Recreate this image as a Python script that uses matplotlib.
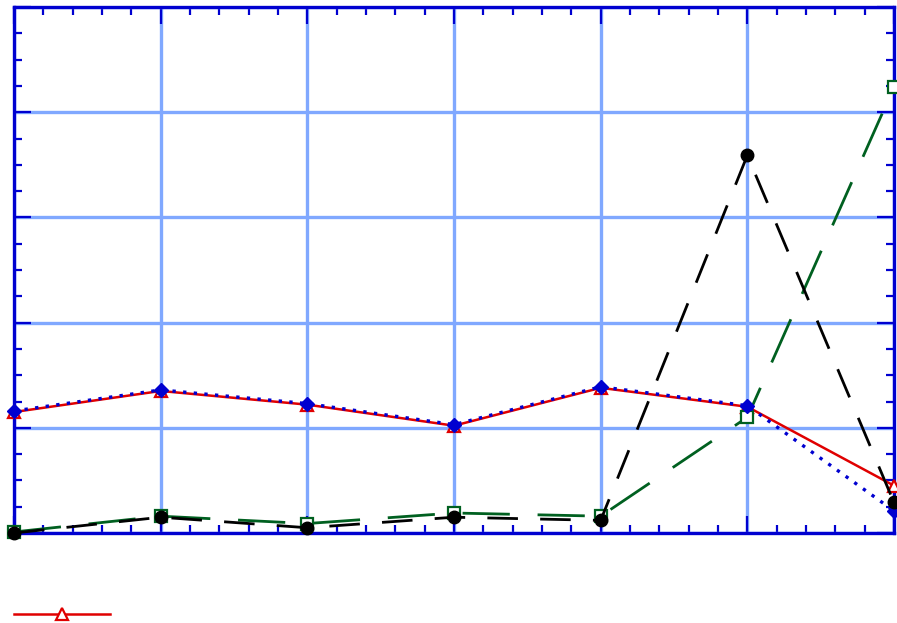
import numpy as np
import matplotlib
matplotlib.use("Agg")
import matplotlib.pyplot as plt
from matplotlib.ticker import MultipleLocator, NullFormatter

# data
x = [0, 1, 2, 3, 4, 5, 6]
red_tri = [1.15, 1.35, 1.22, 1.02, 1.38, 1.20, 0.45]
blue_dia = [1.16, 1.36, 1.23, 1.03, 1.39, 1.21, 0.21]
green_sq = [0.01, 0.16, 0.09, 0.19, 0.16, 1.10, 4.24]
black_dot = [0.00, 0.15, 0.05, 0.15, 0.12, 3.59, 0.29]

fig = plt.figure(figsize=(8.97, 6.23), dpi=100)
ax = fig.add_axes([14 / 897, 90 / 623, 880 / 897, 526 / 623])

edge = '#0000d0'
grid_c = '#80a8ff'

ax.set_xlim(0, 6)
ax.set_ylim(0, 5)
ax.xaxis.set_major_locator(MultipleLocator(1))
ax.xaxis.set_minor_locator(MultipleLocator(0.2))
ax.yaxis.set_major_locator(MultipleLocator(1))
ax.yaxis.set_minor_locator(MultipleLocator(0.25))
ax.xaxis.set_major_formatter(NullFormatter())
ax.yaxis.set_major_formatter(NullFormatter())
ax.grid(which='major', color=grid_c, linewidth=2.4, zorder=0)
ax.set_axisbelow(True)
ax.tick_params(which='both', direction='in', top=True, right=True,
               color=edge, width=1.6)
ax.tick_params(which='major', length=12)
ax.tick_params(which='minor', length=6)
for s in ax.spines.values():
    s.set_color(edge)
    s.set_linewidth(2.4)

line_red, = ax.plot(x, red_tri, color='#e00000', lw=1.8, marker='^', ms=8,
                    mfc='white', mec='#e00000', mew=1.6, clip_on=False, zorder=3)
ax.plot(x, blue_dia, color=edge, lw=2.4, ls=(0, (1, 2.2)), marker='D', ms=7,
        mfc=edge, mec=edge, clip_on=False, zorder=4)
ax.plot(x, green_sq, color='#006020', lw=2, ls=(0, (17, 10)), marker='s', ms=8,
        mfc='white', mec='#006020', mew=1.6, clip_on=False, zorder=3)
ax.plot(x, black_dot, color='black', lw=2, ls=(0, (11, 8)), marker='o', ms=9,
        mfc='black', mec='black', clip_on=False, zorder=5)

fig.legend([line_red], [' '], loc='center left',
           bbox_to_anchor=(14 / 897, (623 - 615) / 623),
           frameon=False, handlelength=6.9, borderaxespad=0, borderpad=0,
           handletextpad=0.2)

fig.savefig('out.png', dpi=100)
